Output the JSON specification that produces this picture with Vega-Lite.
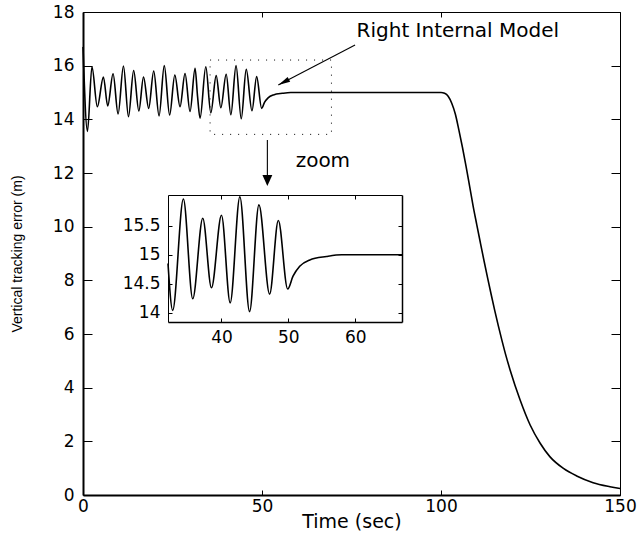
{
  "$schema": "https://vega.github.io/schema/vega-lite/v6.json",
  "width": 537,
  "height": 483,
  "autosize": {"type": "none"},
  "padding": {"left": 83, "top": 12, "right": 24, "bottom": 41},
  "background": "white",
  "config": {
    "view": {"stroke": null},
    "axis": {
      "grid": false,
      "zindex": 1,
      "domainColor": "black",
      "tickColor": "black",
      "tickWidth": 1,
      "labelColor": "black",
      "titleColor": "black",
      "labelFont": "DejaVu Sans",
      "labelFontSize": 17,
      "titleFont": "DejaVu Sans",
      "titleFontWeight": "normal",
      "labelOverlap": false,
      "labelFlush": false
    }
  },
  "datasets": {
    "curve": [
      {"t": 0, "v": 16.7}, {"t": 1.25, "v": 13.55}, {"t": 2.5, "v": 15.96}, {"t": 4.0, "v": 14.47},
      {"t": 5.7, "v": 15.58}, {"t": 6.9, "v": 14.5}, {"t": 8.4, "v": 15.7}, {"t": 9.8, "v": 14.2},
      {"t": 11.3, "v": 15.99}, {"t": 12.7, "v": 14.1}, {"t": 14.15, "v": 15.82}, {"t": 15.6, "v": 14.31},
      {"t": 16.9, "v": 15.58}, {"t": 18.35, "v": 14.41}, {"t": 19.75, "v": 15.8}, {"t": 21.25, "v": 14.13},
      {"t": 22.7, "v": 16.0}, {"t": 24.2, "v": 14.16}, {"t": 25.65, "v": 15.65}, {"t": 27.1, "v": 14.47},
      {"t": 28.5, "v": 15.71}, {"t": 29.9, "v": 14.29}, {"t": 31.3, "v": 15.9}, {"t": 32.0, "v": 14.85},
      {"t": 32.7, "v": 14.04}, {"t": 34.3, "v": 15.96}, {"t": 35.7, "v": 14.24}, {"t": 37.2, "v": 15.63},
      {"t": 38.5, "v": 14.43}, {"t": 40.0, "v": 15.68}, {"t": 41.3, "v": 14.17}, {"t": 42.75, "v": 16.0},
      {"t": 44.2, "v": 14.02}, {"t": 45.6, "v": 15.86}, {"t": 47.2, "v": 14.32}, {"t": 48.5, "v": 15.59},
      {"t": 49.9, "v": 14.41}, {"t": 50.7, "v": 14.63}, {"t": 51.7, "v": 14.8}, {"t": 53.2, "v": 14.91},
      {"t": 55.7, "v": 14.97}, {"t": 58, "v": 15.0}, {"t": 62, "v": 15.0}, {"t": 67, "v": 15.0},
      {"t": 75, "v": 15.0}, {"t": 85, "v": 15.0}, {"t": 95, "v": 15.0}, {"t": 100, "v": 15.0},
      {"t": 101, "v": 14.97}, {"t": 102, "v": 14.86}, {"t": 103, "v": 14.6}, {"t": 104, "v": 14.2},
      {"t": 105, "v": 13.6}, {"t": 106, "v": 12.95}, {"t": 107, "v": 12.25}, {"t": 108, "v": 11.5},
      {"t": 109, "v": 10.75}, {"t": 110, "v": 10.07}, {"t": 111, "v": 9.4}, {"t": 112, "v": 8.74},
      {"t": 113, "v": 8.1}, {"t": 114, "v": 7.48}, {"t": 115, "v": 6.88}, {"t": 116, "v": 6.31},
      {"t": 117, "v": 5.77}, {"t": 118, "v": 5.26}, {"t": 119.3, "v": 4.66}, {"t": 122.1, "v": 3.54},
      {"t": 124.9, "v": 2.61}, {"t": 127.7, "v": 1.93}, {"t": 130.4, "v": 1.43}, {"t": 134.2, "v": 0.99},
      {"t": 137.9, "v": 0.71}, {"t": 142.5, "v": 0.46}, {"t": 147.2, "v": 0.31}, {"t": 150, "v": 0.24}
    ],
    "zoombox": [{"x0": 35.5, "x1": 69.4, "y0": 13.44, "y1": 16.21}],
    "insetframe": [{"x0": 32, "x1": 67, "y0": 13.84, "y1": 16.03}],
    "notes": [
      {"t": 104.7, "v": 17.06, "label": "Right Internal Model"},
      {"t": 67.0, "v": 12.21, "label": "zoom"}
    ],
    "arrows": [
      {"xs": 76.0, "ys": 16.77, "xe": 54.55, "ye": 15.28},
      {"xs": 51.5, "ys": 13.23, "xe": 51.5, "ye": 11.6}
    ],
    "head1": [{"t": 54.55, "v": 15.28}],
    "head2": [{"t": 51.5, "v": 11.52}]
  },
  "resolve": {"scale": {"x": "independent", "y": "independent"}},
  "layer": [
    {
      "data": {"name": "curve"},
      "mark": {"type": "line", "color": "black", "strokeWidth": 1.6, "interpolate": "monotone"},
      "encoding": {
        "x": {"field": "t", "type": "quantitative",
          "scale": {"domain": [0, 150], "nice": false, "zero": false},
          "axis": {"orient": "bottom", "values": [0, 50, 100, 150], "title": "Time (sec)", "tickSize": -5,
            "labelPadding": 8, "domainWidth": 2, "titleFontSize": 19, "titlePadding": -2}},
        "y": {"field": "v", "type": "quantitative",
          "scale": {"domain": [0, 18], "nice": false, "zero": false},
          "axis": {"orient": "left", "values": [0, 2, 4, 6, 8, 10, 12, 14, 16, 18], "title": "Vertical tracking error (m)",
            "tickSize": -9, "labelPadding": 18, "domainWidth": 2, "titleFont": "Liberation Sans", "titleFontSize": 14, "titlePadding": 28}}
      }
    },
    {
      "data": {"name": "zoombox"},
      "mark": {"type": "rect", "filled": false, "color": "black", "strokeWidth": 1, "strokeDash": [1, 7]},
      "encoding": {
        "x": {"field": "x0", "type": "quantitative",
          "scale": {"domain": [0, 150], "nice": false, "zero": false},
          "axis": {"orient": "top", "values": [0, 50, 100, 150], "labels": false, "title": null, "tickSize": -5, "domainWidth": 1}},
        "x2": {"field": "x1"},
        "y": {"field": "y0", "type": "quantitative",
          "scale": {"domain": [0, 18], "nice": false, "zero": false},
          "axis": {"orient": "right", "values": [0, 2, 4, 6, 8, 10, 12, 14, 16, 18], "labels": false, "title": null, "tickSize": -9, "domainWidth": 1}},
        "y2": {"field": "y1"}
      }
    },
    {
      "data": {"name": "insetframe"},
      "mark": {"type": "rect", "filled": false, "color": "black", "strokeOpacity": 0},
      "encoding": {
        "x": {"field": "x0", "type": "quantitative",
          "scale": {"domain": [32, 67], "range": [85, 319], "nice": false, "zero": false},
          "axis": {"orient": "top", "offset": -183, "values": [40, 50, 60], "labels": false, "title": null, "tickSize": -4, "domainWidth": 1}},
        "x2": {"field": "x1"},
        "y": {"field": "y0", "type": "quantitative",
          "scale": {"domain": [13.84, 16.03], "range": [310, 183], "nice": false, "zero": false},
          "axis": {"orient": "right", "offset": -218, "values": [14, 14.5, 15, 15.5], "labels": false, "title": null, "tickSize": -4, "domainWidth": 1.5}},
        "y2": {"field": "y1"}
      }
    },
    {
      "data": {"name": "curve"},
      "transform": [{"filter": "datum.t >= 32 && datum.t <= 67"}],
      "mark": {"type": "line", "color": "black", "strokeWidth": 1.6, "interpolate": "monotone"},
      "encoding": {
        "x": {"field": "t", "type": "quantitative",
          "scale": {"domain": [32, 67], "range": [85, 319], "nice": false, "zero": false},
          "axis": {"orient": "bottom", "offset": -173, "values": [40, 50, 60], "title": null, "tickSize": -4, "labelPadding": 11, "domainWidth": 1.5}},
        "y": {"field": "v", "type": "quantitative",
          "scale": {"domain": [13.84, 16.03], "range": [310, 183], "nice": false, "zero": false},
          "axis": {"orient": "left", "offset": -85, "values": [14, 14.5, 15, 15.5], "format": "~g", "title": null, "tickSize": -4, "labelPadding": 12, "domainWidth": 1}}
      }
    },
    {
      "data": {"name": "notes"},
      "mark": {"type": "text", "font": "DejaVu Sans", "fontSize": 20, "align": "center", "baseline": "alphabetic", "color": "black"},
      "encoding": {
        "x": {"field": "t", "type": "quantitative", "scale": {"domain": [0, 150], "nice": false, "zero": false}, "axis": null},
        "y": {"field": "v", "type": "quantitative", "scale": {"domain": [0, 18], "nice": false, "zero": false}, "axis": null},
        "text": {"field": "label"}
      }
    },
    {
      "data": {"name": "arrows"},
      "mark": {"type": "rule", "color": "black", "strokeWidth": 1.1},
      "encoding": {
        "x": {"field": "xs", "type": "quantitative", "scale": {"domain": [0, 150], "nice": false, "zero": false}, "axis": null},
        "y": {"field": "ys", "type": "quantitative", "scale": {"domain": [0, 18], "nice": false, "zero": false}, "axis": null},
        "x2": {"field": "xe"},
        "y2": {"field": "ye"}
      }
    },
    {
      "data": {"name": "head1"},
      "mark": {"type": "point", "shape": "M0,0 L-0.45,2 L0.45,2 Z", "filled": true, "color": "black", "opacity": 1, "size": 144, "angle": 242.5},
      "encoding": {
        "x": {"field": "t", "type": "quantitative", "scale": {"domain": [0, 150], "nice": false, "zero": false}, "axis": null},
        "y": {"field": "v", "type": "quantitative", "scale": {"domain": [0, 18], "nice": false, "zero": false}, "axis": null}
      }
    },
    {
      "data": {"name": "head2"},
      "mark": {"type": "point", "shape": "M0,0 L-0.9,2 L0.9,2 Z", "filled": true, "color": "black", "opacity": 1, "size": 121, "angle": 180},
      "encoding": {
        "x": {"field": "t", "type": "quantitative", "scale": {"domain": [0, 150], "nice": false, "zero": false}, "axis": null},
        "y": {"field": "v", "type": "quantitative", "scale": {"domain": [0, 18], "nice": false, "zero": false}, "axis": null}
      }
    }
  ]
}
